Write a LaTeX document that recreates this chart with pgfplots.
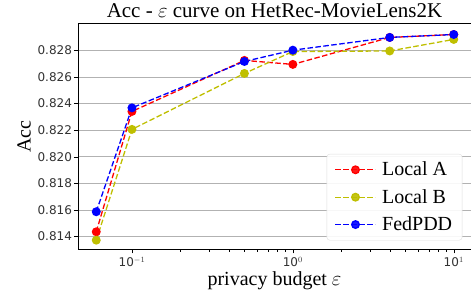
\documentclass[border=0pt]{standalone}
\usepackage{pgfplots}
\pgfplotsset{compat=1.18}
\usepackage{fontspec}
\setmainfont{Liberation Serif}
\newfontfamily\tickfont{DejaVu Sans}
\definecolor{myy}{RGB}{191,191,0}
\definecolor{tickgray}{RGB}{50,50,50}
\begin{document}
\begin{tikzpicture}[trim axis right]
\begin{axis}[
  scale only axis,
  width=393pt, height=226pt,
  xmode=log,
  xmin=0.0462, xmax=12.8,
  ymin=0.81302, ymax=0.83003,
  xtick={0.1,1,10},
  xticklabels={10$^{-1}$,10$^{0}$,10$^{1}$},
  ytick={0.814,0.816,0.818,0.820,0.822,0.824,0.826,0.828},
  yticklabels={0.814,0.816,0.818,0.820,0.822,0.824,0.826,0.828},
  ticklabel style={font=\tickfont\fontsize{12}{13}\selectfont, text=tickgray},
  yticklabel style={xshift=1.5pt},
  tick style={black},
  major tick length=4pt, minor tick length=2.5pt,
  xtick pos=bottom, ytick pos=left,
  tick align=outside,
  ymajorgrids, grid style={gray!60, line width=0.7pt},
  axis line style={black, line width=0.7pt},
  title={Acc - $\varepsilon$ curve on HetRec-MovieLens2K},
  title style={font=\fontsize{21}{23}\selectfont, yshift=-3.5pt},
  xlabel={privacy budget $\varepsilon$},
  ylabel={Acc},
  label style={font=\fontsize{20}{22}\selectfont},
  ylabel style={at={(axis description cs:-0.137,0.5)}, anchor=center},
  xlabel style={yshift=2pt},
  legend style={font=\rmfamily\fontsize{20}{22}\selectfont, rounded corners=3pt, draw=gray!25, fill=white, fill opacity=0.9, text opacity=1, row sep=8pt, column sep=4pt, inner xsep=8pt, inner ysep=6pt, at={(0.978,0.04)}, anchor=south east},
  legend cell align=left,
  legend image code/.code={\draw[mark repeat=2,mark phase=2] plot coordinates {(0pt,0pt) (20pt,0pt) (40pt,0pt)};},
  every axis plot/.append style={dash pattern=on 5.5pt off 2.5pt, line width=1.3pt, mark=*, mark size=3.8pt},
]
\addplot[red, mark options={fill=red, draw=red, solid}] coordinates {(0.06,0.81435) (0.1,0.82341) (0.5,0.82725) (1,0.82695) (4,0.82898) (10,0.8292)};
\addlegendentry{Local A}
\addplot[myy, mark options={fill=myy, draw=myy, solid}] coordinates {(0.06,0.81372) (0.1,0.82206) (0.5,0.82627) (1,0.82792) (4,0.82796) (10,0.82883)};
\addlegendentry{Local B}
\addplot[blue, mark options={fill=blue, draw=blue, solid}] coordinates {(0.06,0.81586) (0.1,0.82368) (0.5,0.82717) (1,0.82802) (4,0.82898) (10,0.8292)};
\addlegendentry{FedPDD}
\end{axis}
\path (current axis.south west) ++(-78pt,0pt) coordinate (bbleft);
\end{tikzpicture}
\end{document}
